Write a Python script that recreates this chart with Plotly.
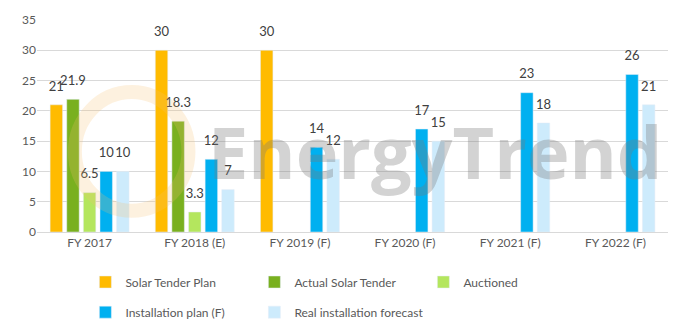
import plotly.graph_objects as go

categories = ["FY 2017", "FY 2018 (E)", "FY 2019 (F)", "FY 2020 (F)", "FY 2021 (F)", "FY 2022 (F)"]
solar_tender_plan = [21, 30, 30, None, None, None]
actual_solar_tender = [21.9, 18.3, None, None, None, None]
auctioned = [6.5, 3.3, None, None, None, None]
installation_plan = [10, 12, 14, 17, 23, 26]
real_installation = [10, 7, 12, 15, 18, 21]

series = [
    ("Solar Tender Plan", solar_tender_plan, "#FFBB00", "legend"),
    ("Actual Solar Tender", actual_solar_tender, "#79B01F", "legend"),
    ("Auctioned", auctioned, "#B4E65E", "legend"),
    ("Installation plan (F)", installation_plan, "#00B0F0", "legend2"),
    ("Real installation forecast", real_installation, "#CDEBFC", "legend2"),
]

fig = go.Figure()
for name, vals, color, lg in series:
    fig.add_trace(go.Bar(
        x=categories, y=vals, name=name, marker_color=color,
        legend=lg,
    ))
# data labels, grouped like the bars
for name, vals, color, lg in series:
    fig.add_trace(go.Scatter(
        x=categories, y=vals, mode="markers+text", showlegend=False, hoverinfo="skip",
        marker=dict(size=16, opacity=0),
        text=[("" if v is None else f"{v:g}") for v in vals],
        textposition="top center", cliponaxis=False,
        textfont=dict(size=13, color="#404040", family="Lato"),
    ))

font_family = "Lato"
fig.update_layout(
    width=683, height=331,
    margin=dict(l=37, r=15, t=15, b=99),
    paper_bgcolor="white", plot_bgcolor="white",
    barmode="group", bargap=0.21, bargroupgap=0.25,
    scattermode="group", scattergap=0.21,
    font=dict(family=font_family, size=12, color="#595959"),
    xaxis=dict(showline=True, linecolor="#D9D9D9", ticks="", tickfont=dict(size=12, color="#595959")),
    yaxis=dict(range=[0, 35], dtick=5, showgrid=True, gridcolor="#D9D9D9", gridwidth=1,
               zeroline=False, ticks="", tickfont=dict(size=12, color="#595959")),
    legend=dict(orientation="h", xref="container", yref="container", x=0.125, y=0.148,
                xanchor="left", yanchor="middle", entrywidth=124, entrywidthmode="pixels",
                font=dict(size=12, color="#595959"), itemwidth=30, bgcolor="rgba(0,0,0,0)"),
    legend2=dict(orientation="h", xref="container", yref="container", x=0.125, y=0.057,
                 xanchor="left", yanchor="middle", entrywidth=124, entrywidthmode="pixels",
                 font=dict(size=12, color="#595959"), itemwidth=30, bgcolor="rgba(0,0,0,0)"),
    showlegend=True,
)

# watermark
fig.add_annotation(text="<b>EnergyTrend</b>", xref="paper", yref="paper", x=0.63, y=0.38,
                   showarrow=False, font=dict(size=72, color="rgba(120,120,120,0.33)", family="Open Sans"))
fig.add_shape(type="circle", xref="paper", yref="paper", x0=0.06, x1=0.24, y0=0.10, y1=0.66,
              line=dict(color="rgba(245,190,110,0.22)", width=14), layer="above")

fig.write_html("out.html")
